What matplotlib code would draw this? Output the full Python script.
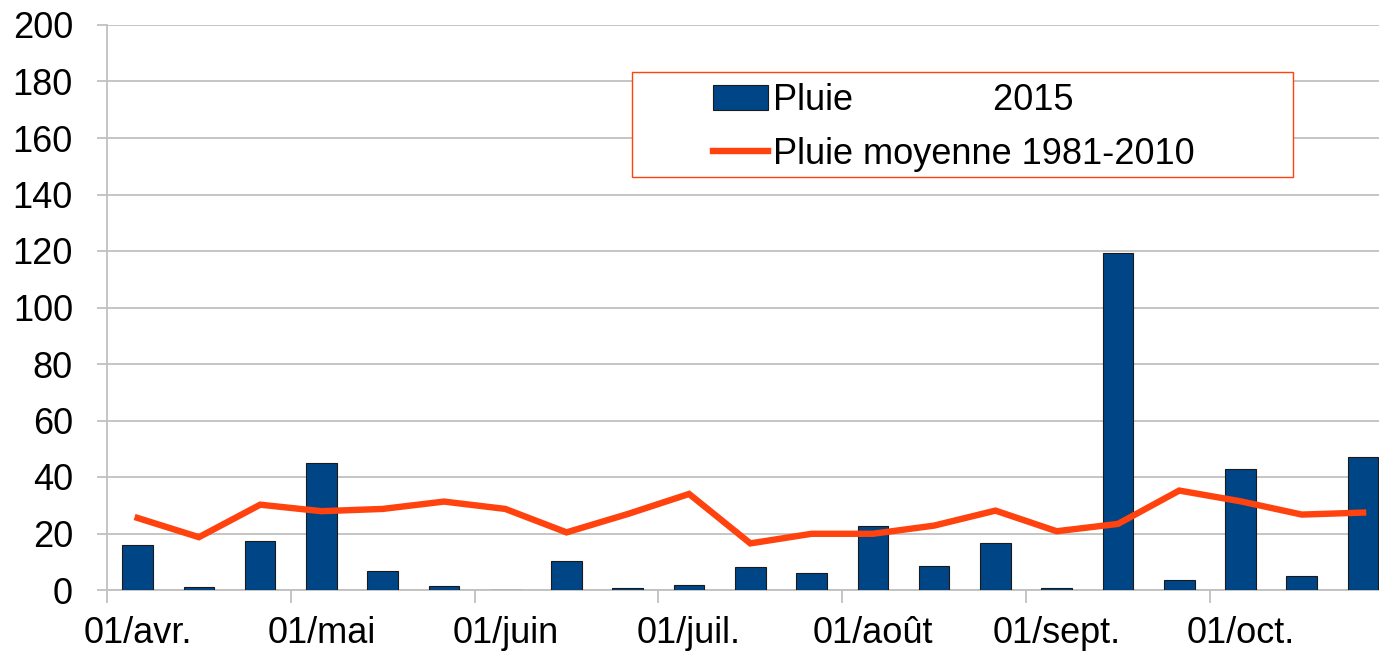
import numpy as np
import matplotlib
matplotlib.use("Agg")
import matplotlib.pyplot as plt
from matplotlib.patches import Rectangle

plt.rcParams["font.family"] = ["Liberation Sans", "DejaVu Sans"]

# Pluie par décade, avril -> octobre 2015 (mm)
pluie_2015 = [15.8, 0.9, 17.2, 44.9, 6.7, 1.3,
              0.0, 10.4, 0.6, 1.9, 8.2, 5.9,
              22.6, 8.6, 16.8, 0.6, 119.4, 3.6,
              42.7, 5.0, 47.2]
# Pluie moyenne 1981-2010 par décade (mm)
pluie_moy = [25.5, 18.7, 30.2, 27.9, 28.7, 31.3,
             28.7, 20.4, 26.9, 34.0, 16.5, 19.9,
             19.9, 22.8, 28.1, 20.8, 23.4, 35.2,
             31.4, 26.7, 27.4]
mois_labels = ["01/avr.", "01/mai", "01/juin", "01/juil.", "01/août", "01/sept.", "01/oct."]
y_ticks = list(range(0, 201, 20))

W, H = 1379, 656
fig = plt.figure(figsize=(W / 100, H / 100), dpi=100)
ax = fig.add_axes([107 / W, (H - 590) / H, (W - 107) / W, 565 / H])

x = np.arange(len(pluie_2015))
grid_col = "#c0c0c0"

bars = ax.bar(x, pluie_2015, width=0.5, color="#004586", edgecolor="#1a1a1a",
              linewidth=0.8, zorder=3)
line, = ax.plot(x, pluie_moy, color="#ff420e", linewidth=4.6, solid_joinstyle="miter",
                zorder=4)

ax.set_yticks(y_ticks)
ax.yaxis.grid(True, color=grid_col, linewidth=1.3, zorder=0)
ax.set_axisbelow(True)

ax.set_xticks(np.arange(0, len(x), 3))
ax.set_xticklabels(mois_labels)
ax.set_xticks(np.arange(-0.5, len(x), 3), minor=True)
ax.set_ylim(0, 200)
ax.set_xlim(-0.5, 20.26)
ax.tick_params(axis="x", which="major", length=0, pad=19, labelsize=26)
ax.tick_params(axis="x", which="minor", length=9, width=1.3, color=grid_col)
ax.tick_params(axis="y", length=7.5, width=1.3, color=grid_col, pad=17, labelsize=26)

for s in ["top", "right"]:
    ax.spines[s].set_visible(False)
ax.spines["left"].set_color(grid_col)
ax.spines["left"].set_linewidth(1.3)
ax.spines["bottom"].set_color(grid_col)
ax.spines["bottom"].set_linewidth(1.3)

# cadre de la légende
fig.patches.append(Rectangle((632 / W, 1 - 177 / H), (1293 - 632) / W, 105 / H,
                             transform=fig.transFigure, facecolor="white",
                             edgecolor="#ff420e", linewidth=1.0, zorder=5))
leg = fig.legend([bars, line], ["Pluie              2015", "Pluie moyenne 1981-2010"],
                 loc="upper left", bbox_to_anchor=(699 / W, 1 - 69 / H),
                 frameon=False, fontsize=26, handlelength=1.5, handletextpad=0.15,
                 labelspacing=0.5, borderaxespad=0)
leg.set_zorder(6)

fig.savefig("out.png", dpi=100)
